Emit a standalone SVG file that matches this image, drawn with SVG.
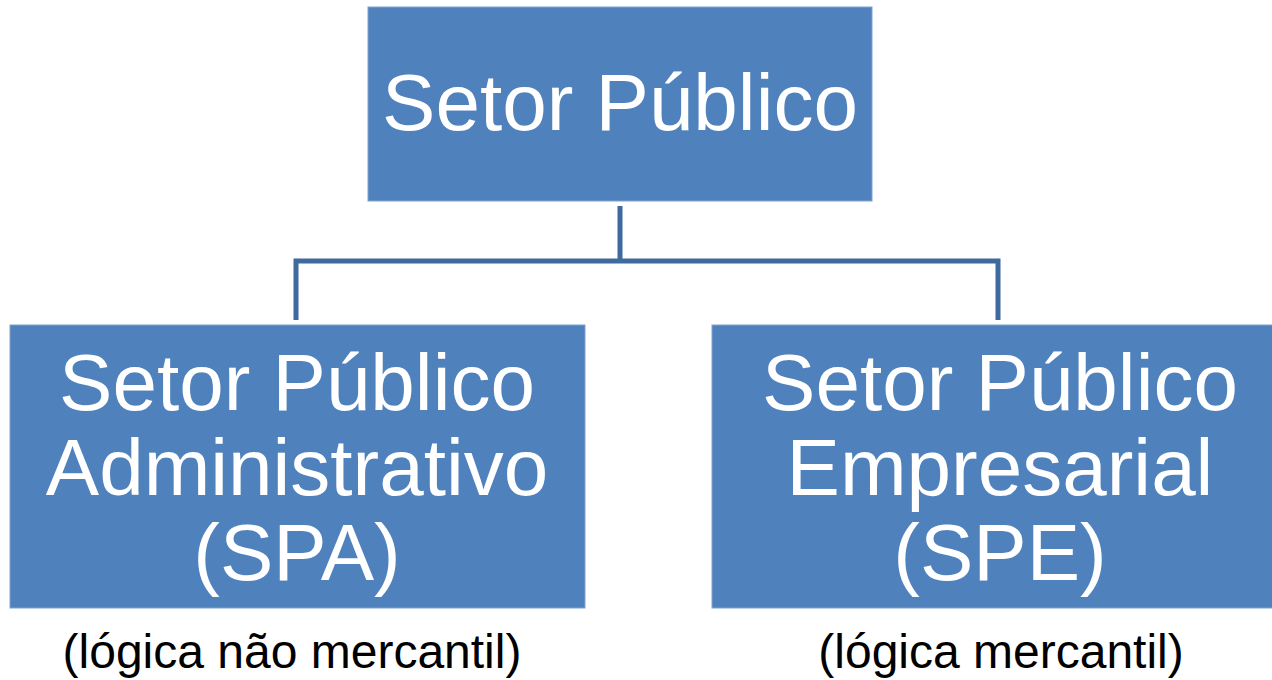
<svg xmlns="http://www.w3.org/2000/svg" width="1272" height="680" viewBox="0 0 1272 680">
<style>
.box{fill:#4F81BD;stroke:#7FA3D0;stroke-width:1}
.t{font-family:"Liberation Sans",Arial,sans-serif;font-size:80px;fill:#FFFFFF;text-anchor:middle}
.n{font-family:"Liberation Sans",Arial,sans-serif;font-size:48px;fill:#000000;text-anchor:middle}
.c{fill:none;stroke:#3F6A9E;stroke-width:5}
</style>
<rect width="1272" height="680" fill="#FFFFFF"/>
<g id="connectors">
<path class="c" d="M620 206 V261 M296 320 V261 H998 V320"/>
</g>
<g id="node-setor-publico">
<rect class="box" x="368" y="7" width="504" height="194"/>
<text class="t" x="620" y="130">Setor Público</text>
</g>
<g id="node-spa">
<rect class="box" x="10" y="325" width="575" height="283"/>
<text class="t" x="297" y="410">Setor Público</text>
<text class="t" x="297" y="495">Administrativo</text>
<text class="t" x="297" y="580">(SPA)</text>
</g>
<g id="node-spe">
<rect class="box" x="712" y="325" width="576" height="283"/>
<text class="t" x="1000" y="410">Setor Público</text>
<text class="t" x="1000" y="495">Empresarial</text>
<text class="t" x="1000" y="580">(SPE)</text>
</g>
<g id="note-spa">
<text class="n" x="292" y="668">(lógica não mercantil)</text>
</g>
<g id="note-spe">
<text class="n" x="1001" y="668">(lógica mercantil)</text>
</g>
</svg>
